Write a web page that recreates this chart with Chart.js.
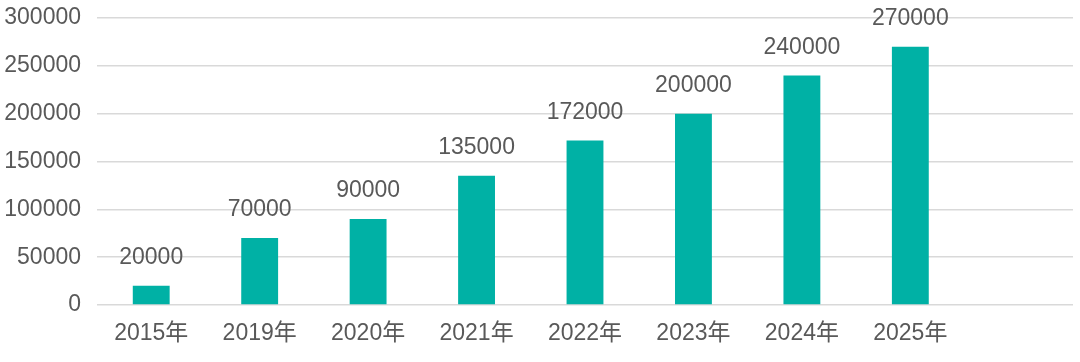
<!DOCTYPE html>
<html>
<head>
<meta charset="utf-8">
<script src="https://cdn.jsdelivr.net/npm/chart.js@4/dist/chart.umd.min.js"></script>
<style>
    html, body {
        margin: 0;
        padding: 0;
        background: #ffffff;
    }
    #wrap {
        width: 1080px;
        height: 362px;
    }
</style>
</head>
<body>
<div id="wrap"><canvas id="chart"></canvas></div>
<script>
const categories = ["2015年", "2019年", "2020年", "2021年", "2022年", "2023年", "2024年", "2025年", ""];
const values = [20000, 70000, 90000, 135000, 172000, 200000, 240000, 270000];
const yTicks = [0, 50000, 100000, 150000, 200000, 250000, 300000];

const fontFamily = '"Liberation Sans", Arial, "Noto Sans CJK SC", sans-serif';
const textColor = "#595959";
const barColor = "#00B1A5";

// draws the value above each bar
const valueLabels = {
    id: "valueLabels",
    afterDatasetsDraw(chart) {
        const ctx = chart.ctx;
        const meta = chart.getDatasetMeta(0);
        ctx.save();
        ctx.font = "23px " + fontFamily;
        ctx.fillStyle = textColor;
        ctx.textAlign = "center";
        ctx.textBaseline = "middle";
        meta.data.forEach((bar, i) => {
            ctx.fillText(String(values[i]), bar.x, bar.y - 28);
        });
        ctx.restore();
    },
};

new Chart(document.getElementById("chart"), {
    type: "bar",
    data: {
        labels: categories,
        datasets: [
            {
                data: values,
                backgroundColor: barColor,
                categoryPercentage: 1,
                barPercentage: 0.34,
            },
        ],
    },
    options: {
        responsive: true,
        maintainAspectRatio: false,
        animation: false,
        layout: {
            padding: { top: 18, right: 7, left: 0, bottom: 0 },
        },
        plugins: {
            legend: { display: false },
            tooltip: { enabled: false },
        },
        scales: {
            x: {
                grid: { display: false, drawTicks: false },
                border: { display: false },
                ticks: {
                    color: textColor,
                    font: { family: fontFamily, size: 23 },
                    padding: 15,
                    maxRotation: 0,
                },
                afterFit(scale) {
                    scale.height = 57;
                    scale.paddingLeft = 0;
                    scale.paddingRight = 0;
                },
            },
            y: {
                min: 0,
                max: 300000,
                afterBuildTicks(scale) {
                    scale.ticks = yTicks.map((v) => ({ value: v }));
                },
                grid: {
                    color: "#d9d9d9",
                    lineWidth: 1.5,
                    drawTicks: false,
                },
                border: { display: false },
                ticks: {
                    color: textColor,
                    font: { family: fontFamily, size: 23 },
                    padding: 16,
                    callback: (value) => String(value),
                },
                afterFit(scale) {
                    scale.width = 97;
                    scale.paddingTop = 0;
                    scale.paddingBottom = 0;
                },
            },
        },
    },
    plugins: [valueLabels],
});
</script>
</body>
</html>
